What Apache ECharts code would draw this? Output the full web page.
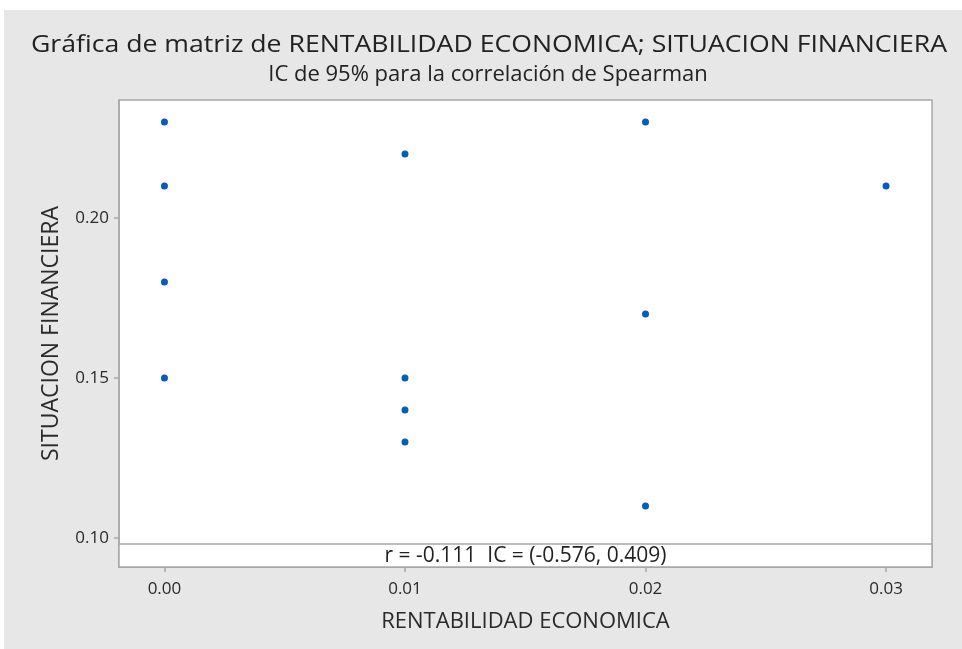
<!DOCTYPE html>
<html>
<head>
<meta charset="utf-8">
<script src="https://cdn.jsdelivr.net/npm/echarts@6/dist/echarts.min.js"></script>
<style>
  html, body { margin: 0; padding: 0; background: #ffffff; }
  #chart { position: absolute; left: 4px; top: 10px; width: 958px; height: 639px; background: #e7e7e7; }
</style>
</head>
<body>
<div id="chart"></div>
<script>
// datos
const rentabilidad = [0.00, 0.00, 0.00, 0.00, 0.01, 0.01, 0.01, 0.01, 0.02, 0.02, 0.02, 0.03]
const situacion = [0.23, 0.21, 0.18, 0.15, 0.22, 0.15, 0.14, 0.13, 0.23, 0.17, 0.11, 0.21]
const xTicks = [0.00, 0.01, 0.02, 0.03]
const yTicks = [0.10, 0.15, 0.20]
const titulo = 'Gráfica de matriz de RENTABILIDAD ECONOMICA; SITUACION FINANCIERA'
const subtitulo = 'IC de 95% para la correlación de Spearman'
const anotacion = 'r = -0.111  IC = (-0.576, 0.409)'

const chart = echarts.init(document.getElementById('chart'))

const fontUI = '"Open Sans", "Noto Sans", sans-serif'
const gridLeft = 115, gridTop = 90, gridW = 813, gridH = 467
const gris = '#a8a8a8'

const option = {
  animation: false,
  backgroundColor: '#e7e7e7',
  grid: {
    left: gridLeft, top: gridTop, width: gridW, height: gridH,
    show: true, backgroundColor: '#ffffff', borderColor: gris, borderWidth: 1.5
  },
  xAxis: {
    type: 'value',
    min: -0.00189, max: 0.03191,
    name: 'RENTABILIDAD ECONOMICA',
    nameLocation: 'middle', nameGap: 44,
    nameTextStyle: { fontFamily: fontUI, fontSize: 22, color: '#2a2a2a' },
    axisLine: { show: true, onZero: false, lineStyle: { color: gris, width: 1.5 } },
    splitLine: { show: false },
    axisTick: { show: true, inside: false, length: 5, lineStyle: { color: gris, width: 1.5 }, customValues: xTicks },
    axisLabel: {
      customValues: xTicks, margin: 14,
      fontFamily: fontUI, fontSize: 17, color: '#2a2a2a',
      formatter: v => v.toFixed(2)
    }
  },
  yAxis: {
    type: 'value',
    min: 0.09094, max: 0.23688,
    name: 'SITUACION FINANCIERA',
    nameLocation: 'middle', nameGap: 56,
    nameTextStyle: { fontFamily: fontUI, fontSize: 23, color: '#2a2a2a' },
    axisLine: { show: true, onZero: false, lineStyle: { color: gris, width: 1.5 } },
    splitLine: { show: false },
    axisTick: { show: true, inside: false, length: 5, lineStyle: { color: gris, width: 1.5 }, customValues: yTicks },
    axisLabel: {
      customValues: yTicks, margin: 10,
      fontFamily: fontUI, fontSize: 17, color: '#2a2a2a',
      formatter: v => v.toFixed(2)
    }
  },
  series: [{
    type: 'scatter',
    data: rentabilidad.map((x, i) => [x, situacion[i]]),
    symbol: 'circle',
    symbolSize: 7,
    itemStyle: { color: '#0a5bb5', opacity: 1 },
    z: 5
  }],
  graphic: [
    {
      type: 'text', z: 11,
      x: 485, y: 35, scaleX: 1.11,
      style: {
        text: titulo, textAlign: 'center', textVerticalAlign: 'middle',
        fontFamily: fontUI, fontSize: 24, fill: '#222'
      }
    },
    {
      type: 'text', z: 11,
      x: 484, y: 65,
      style: {
        text: subtitulo, textAlign: 'center', textVerticalAlign: 'middle',
        fontFamily: fontUI, fontSize: 22, fill: '#222'
      }
    },
    {
      type: 'rect', z: 10,
      shape: { x: gridLeft, y: 534, width: gridW, height: gridTop + gridH - 534 },
      style: { fill: '#ffffff', stroke: gris, lineWidth: 1.5 }
    },
    {
      type: 'text', z: 11,
      x: gridLeft + gridW / 2, y: 546,
      style: {
        text: anotacion, textAlign: 'center', textVerticalAlign: 'middle',
        fontFamily: fontUI, fontSize: 21, fill: '#222'
      }
    }
  ]
}

chart.setOption(option)
</script>
</body>
</html>
